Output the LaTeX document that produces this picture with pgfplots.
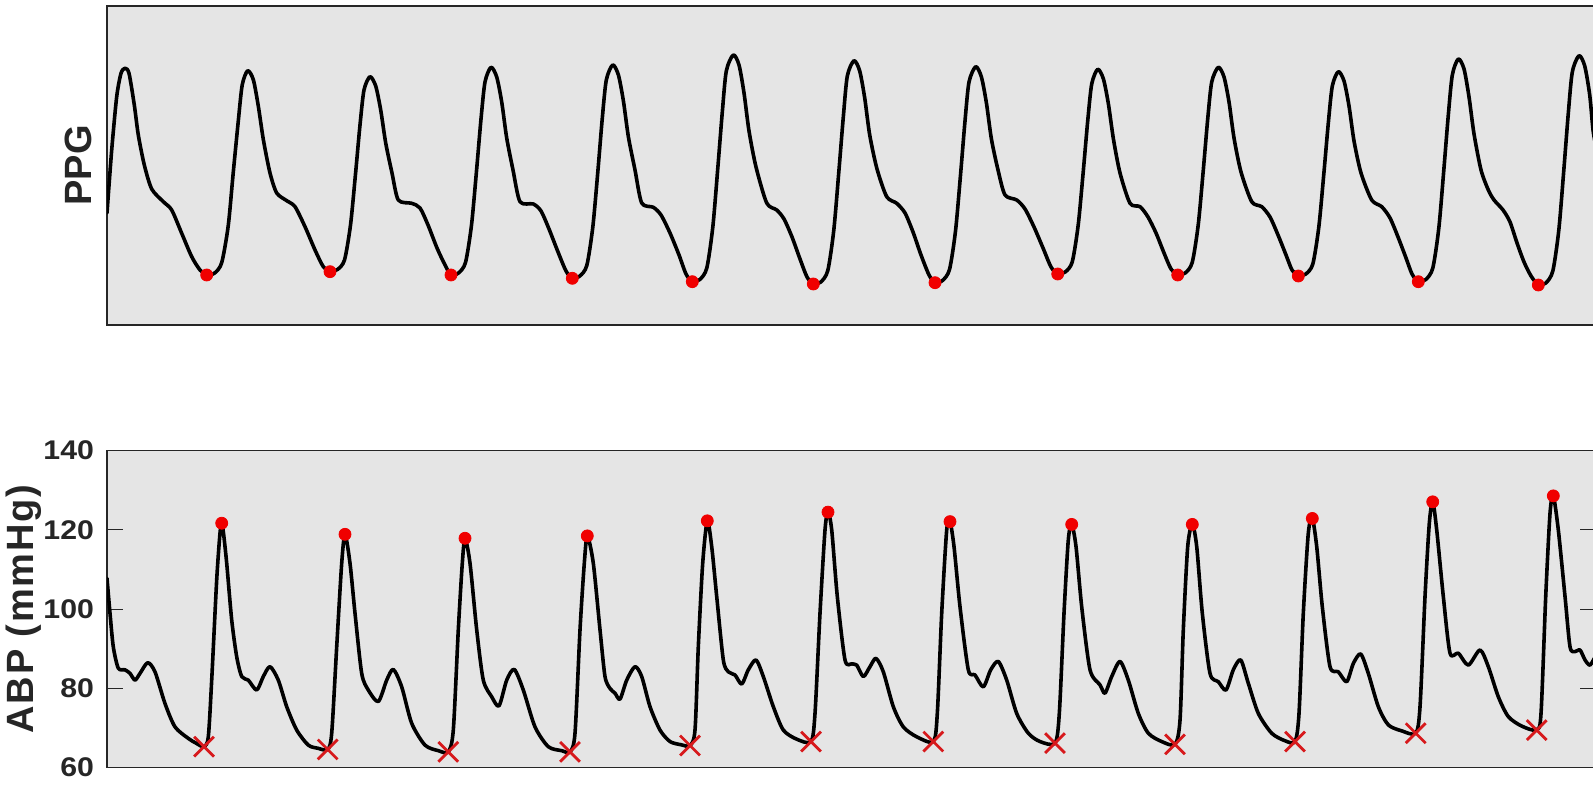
\documentclass[border=0pt]{standalone}
\usepackage{fontspec}
\setmainfont{Liberation Sans}
\newfontfamily\tickfont[FakeStretch=1.12]{Liberation Sans}
\newfontfamily\widelabel[LetterSpace=4.5]{Liberation Sans}
\usepackage{pgfplots}
\usepackage{pgfplotstable}
\pgfplotsset{compat=1.18}
\definecolor{bg}{RGB}{229,229,229}
\definecolor{axc}{RGB}{38,38,38}
\definecolor{dotred}{RGB}{240,0,0}
\definecolor{xred}{RGB}{215,25,28}

\pgfplotstableread{
x v
107 112
111.7 175
116.7 228.3
121 251.7
125 256.7
129 251.7
134.3 220
138.3 190
144.3 160
151.7 136
163.3 123.3
171.7 115
181.7 91.7
191.7 68.3
200 55
206.7 50
214.7 52
221.7 62.3
228.2 99
233.2 152
238.2 203
242.2 240
247.7 254.3
253.4 245
258.4 218.3
263.4 185
270 152
276.7 132
286.7 124.3
295 118.3
305 98.3
315 75
323.3 58.3
330 53.3
337.5 55.5
344.5 65
350.5 100
355.5 151
360 200
364 235
370 248.3
375.7 239
380.7 215
385.7 182
392 152
398.3 125
411.7 121.7
420 117
428 100
437 77
445 60
451 50
458.5 52
465.5 62.5
471.5 100
476.5 154
481 206
485 243
491 257.7
496.7 248
501.7 223
506.7 187
513 155
520 123.3
533.3 121
541 114
549 96
558 73
566 54
572.3 46.7
579.8 49
586.8 59.5
592.8 98
597.8 153
602.3 207
606.3 245
612.7 260
618.4 250
623.4 224
628.4 188
635 155
641.7 122
653.3 117.7
661 110
670 92
679 70
686 51
692.3 43.3
699.8 45.5
706.8 57
712.8 98
717.8 157
722.3 213
726.3 254
733.3 270
739 260
744 232
749 194
756 158
766.7 122
776.7 115
784 106
792 88
800 66
807 48
813.3 41
820.8 43
827.8 54.5
833.8 95
838.8 153
843.3 208
847.3 249
854 264.3
859.7 254
864.7 227
869.7 190
877 156
886.7 128.3
896.7 121.7
905 112
913 93
921 70
929 50
935 42.3
942.5 44.5
949.5 55.5
955.5 94
960.5 150
965 204
969 243
975.7 258.3
981.4 248
986.4 222
991.4 186
998 155
1005 130
1016.7 125
1025 116
1034 98
1043 77
1051 58
1057.7 51
1065.2 53
1072.2 63
1078.2 100
1083.2 153
1087.7 204
1091.7 241
1097.7 255.7
1103.4 246
1108.4 221
1113.4 186
1120 152
1130 121.7
1140 118.3
1148 108
1156 92
1164 72
1171 56
1177.7 50
1185.2 52
1192.2 62.5
1198.2 100
1203.2 154
1207.7 206
1211.7 243
1218.3 257.7
1224 248
1229 223
1234 187
1241 153
1251.7 123.3
1261.7 118.3
1270 108
1278 90
1286 70
1292 55
1298.3 49
1305.8 51
1312.8 61
1318.8 98
1323.8 151
1328.3 202
1332.3 239
1338.3 253.3
1344 244
1349 219
1354 184
1361 152
1371.7 125
1381.7 118.3
1390 107
1398 88
1406 67
1412 51
1418.3 43.3
1425.8 45.5
1432.8 57
1438.8 97
1443.8 155
1448.3 210
1452.3 250
1458.3 266
1464 256
1469 228
1474 191
1481 155
1488.3 135
1494 125
1503 115
1510 103
1517 82
1524 63
1531 49
1538.3 40
1545.8 42
1552.8 54
1558.8 95
1563.8 155
1568.3 212
1572.3 253
1579 269.3
1584.7 259
1589.7 230
1593 195
1596 178
}\ppg

\pgfplotstableread{
x v
206.7 50
330 53.3
451 50
572.3 46.7
692.3 43.3
813.3 41
935 42.3
1057.7 51
1177.7 50
1298.3 49
1418.3 43.3
1538.3 40
}\ppgmin

\pgfplotstableread{
x p
107 107.8
110 99.0
113.3 90.5
118.3 85.1
125 84.7
130 83.8
135 82.1
140 83.8
147.7 86.5
155 84.2
165 76.2
175 70.3
188.3 67.4
196 66.2
204 65.3
208.3 67.8
211.7 82.1
216.7 107.4
220 119.2
221.7 121.7
223.5 119.2
226.7 111.6
231.7 97.3
236.7 88.0
241.7 83.0
248.3 82.1
256.7 79.6
263.3 83.0
270 85.5
278.3 82.1
286.7 75.4
296.7 69.5
308.3 65.7
318 64.9
327.7 64.6
331.7 68.7
336.7 90.5
341.7 111.6
345 118.9
350 111.6
355 99.0
361.7 83.8
368.3 79.6
378.3 76.7
386.7 82.1
393.3 84.8
401.7 80.4
411.7 71.2
425 65.7
438.3 64.3
448.3 64.0
453.3 69.5
458.3 94.8
462.3 111.6
465 117.9
470 111.6
476.7 94.8
483.3 82.1
491.7 77.9
499 75.6
506.7 82.1
514.3 84.8
523.3 79.6
535 70.3
548.3 65.3
561.7 64.3
570 64.0
575 68.7
580 94.8
584.3 111.6
587.3 118.5
593.3 111.6
600 94.8
605 83.0
610 80.0
615 78.8
620 77.3
626.7 82.1
635 85.5
641.7 83.0
650 75.4
660 69.5
670 66.6
681 65.8
690 65.6
695 69.5
698.3 90.5
702.7 111.6
707.3 122.3
711.7 115.8
716.7 103.2
723.3 87.2
728.3 84.2
735 83.4
741.7 81.1
748.3 84.7
756 87.2
763.3 83.0
773.3 75.4
783.3 69.5
796.7 67.2
811 66.6
815 73.7
820 99.0
825 120.0
828 124.5
831.7 120.0
837.3 103.2
845 87.2
851.7 86.2
856.7 85.9
863.3 83.0
870 85.5
876 87.6
883.3 84.2
893.3 75.4
903.3 70.3
916.7 67.8
933.3 66.6
937.3 73.7
941.7 99.0
946.7 120.0
950 122.1
954 115.8
960 100.6
968.3 84.7
975 83.4
983.3 80.4
990.7 84.7
998.3 86.8
1006.7 82.1
1016.7 73.7
1028.3 68.7
1040 66.6
1055 66.2
1059.3 73.7
1064 99.0
1068.3 117.5
1071.7 121.4
1076 115.8
1081.7 100.6
1090 84.7
1100 80.9
1105 78.8
1111.7 83.0
1120 86.8
1128.3 82.1
1138.3 73.7
1148.3 68.7
1161.7 66.6
1175 65.9
1180 72.0
1183.3 94.8
1187.7 115.8
1192.3 121.4
1196.7 115.8
1202.3 99.0
1210 83.8
1218.3 81.7
1226 79.6
1233.3 84.7
1240.7 87.2
1248.3 81.3
1258.3 73.7
1271.7 68.7
1285 66.8
1295 66.6
1299 73.7
1303.3 99.0
1308.3 119.2
1312.3 122.9
1316.7 115.8
1322.3 100.6
1330 85.5
1338.3 84.2
1346.7 81.7
1353.3 86.3
1360.7 88.7
1368.3 83.8
1378.3 75.4
1388.3 70.8
1401.7 69.3
1415.7 68.7
1420 75.4
1425 103.2
1429.3 121.7
1432.7 127.1
1436.7 120.0
1443.3 103.2
1450 88.9
1458.3 88.9
1468.3 85.9
1480 89.7
1488.3 85.5
1498.3 77.9
1508.3 72.9
1521.7 70.5
1536.7 69.5
1541 73.7
1545.7 103.2
1550 124.2
1553.3 128.6
1558.3 120.0
1565 103.2
1570 90.5
1575 89.3
1580 89.7
1585 87.2
1590 85.9
1596 88.4
}\abp

\pgfplotstableread{
x p
221.7 121.7
345 118.9
465 117.9
587.3 118.5
707.3 122.3
828 124.5
950 122.1
1071.7 121.4
1192.3 121.4
1312.3 122.9
1432.7 127.1
1553.3 128.6
}\abpmax

\pgfplotstableread{
x p
204 65.3
327.7 64.6
448.3 64.0
570 64.0
690 65.6
811 66.6
933.3 66.6
1055 66.2
1175 65.9
1295 66.6
1415.7 68.7
1536.7 69.5
}\abpmin

\pgfplotsset{
  common/.style={
    scale only axis, width=744.5pt, anchor=south west,
    xmin=107, xmax=1596,
    axis background/.style={fill=bg},
    axis line style={axc, line width=0.75pt},
    xtick=\empty,
    major tick length=8pt,
    tick style={axc, line width=0.5pt},
    yticklabel style={anchor=east, inner sep=0pt, xshift=-6.35pt,
      font=\fontsize{13.5}{13.5}\tickfont\bfseries, text=axc},
    ylabel style={anchor=base, rotate=0,
      font=\fontsize{19}{19}\selectfont\bfseries, text=axc},
  },
}

\begin{document}
\begin{tikzpicture}
\begin{axis}[common, at={(53.5pt,230.5pt)}, height=159.5pt,
  ymin=0, ymax=319, ytick=\empty,
  ylabel={PPG}, ylabel style={at={(rel axis cs:-0.01028,0.5)}}]
\addplot[black, line width=1.8pt, line join=round, line cap=round, smooth, tension=0.45] table[x=x, y=v] {\ppg};
\addplot[only marks, mark=*, mark size=3pt, mark options={draw=dotred, fill=dotred}] table[x=x, y=v] {\ppgmin};
\end{axis}
\begin{axis}[common, at={(53.5pt,9.15pt)}, height=158.5pt,
  ymin=60, ymax=140, ytick={60,80,100,120,140},
  yticklabels={60,80,100,120,140},
  ylabel={ABP (mmHg)}, ylabel style={at={(rel axis cs:-0.0497,0.5)},
    font=\fontsize{19}{19}\widelabel\bfseries}]
\addplot[black, line width=1.8pt, line join=round, line cap=round, smooth, tension=0.45] table[x=x, y=p] {\abp};
\addplot[only marks, mark=*, mark size=3pt, mark options={draw=dotred, fill=dotred}] table[x=x, y=p] {\abpmax};
\addplot[only marks, mark=x, mark size=7pt, mark options={draw=xred, line width=1.4pt}] table[x=x, y=p] {\abpmin};
\end{axis}
\pgfresetboundingbox
\useasboundingbox (0pt,0pt) rectangle (796.5pt,393pt);
\end{tikzpicture}
\end{document}
